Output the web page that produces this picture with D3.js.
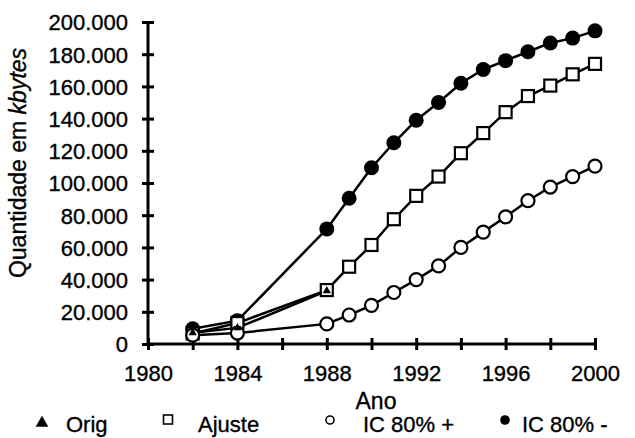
<!DOCTYPE html>
<html>
<head>
<meta charset="utf-8">
<script src="https://cdn.jsdelivr.net/npm/d3@7"></script>
<style>
  html, body { margin: 0; padding: 0; background: #fff; }
  svg { display: block; font-family: "Liberation Sans", Arial, Helvetica, sans-serif; }
  text { stroke: #000; stroke-width: 0.35px; }
</style>
</head>
<body>
<svg id="chart" width="635" height="438"></svg>
<script>
// ---- data ----
const years = [1982, 1984, 1988, 1989, 1990, 1991, 1992, 1993, 1994, 1995, 1996, 1997, 1998, 1999, 2000];
const origYears = [1982, 1984, 1988];
const origValues = [7000, 10000, 33000];
const ajusteValues = [6500, 13000, 33500, 48000, 61500, 77500, 92000, 104000, 118500, 131000, 144000, 154000, 160500, 167500, 174000];
const icPlusValues = [5500, 6800, 12500, 18000, 24000, 32000, 40000, 48500, 60000, 69500, 79000, 89000, 97500, 104000, 110500];
const icMinusValues = [9500, 14500, 71500, 90500, 109500, 125000, 139000, 150000, 162000, 170500, 176000, 181500, 187000, 190000, 194500];
const yTicks = [0, 20000, 40000, 60000, 80000, 100000, 120000, 140000, 160000, 180000, 200000];
const xTicks = [1980, 1982, 1984, 1986, 1988, 1990, 1992, 1994, 1996, 1998, 2000];
const xLabelYears = [1980, 1984, 1988, 1992, 1996, 2000];
const legendLabels = ["Orig", "Ajuste", "IC 80% +", "IC 80% -"];
const yTitleMain = "Quantidade em ";
const yTitleItalic = "kbytes";
const xTitle = "Ano";

// ---- layout ----
const svg = d3.select("#chart");
const x = d3.scaleLinear().domain([1980, 2000]).range([148, 595]);
const y = d3.scaleLinear().domain([0, 200000]).range([344, 22]);

const locale = d3.formatLocale({ decimal: ",", thousands: ".", grouping: [3], currency: ["", ""] });
const fmt = locale.format(",");

// axes
const yAxis = d3.axisLeft(y).tickValues(yTicks).tickSize(6).tickPadding(0).tickFormat(fmt);
const gy = svg.append("g").attr("transform", `translate(${x(1980)},0)`).call(yAxis);
gy.select(".domain").remove();
gy.append("line").attr("x1", 0).attr("x2", 0).attr("y1", y(200000)).attr("y2", y(0))
  .attr("stroke", "#000").attr("stroke-width", 3);
gy.selectAll(".tick line").attr("x1", -6).attr("x2", 6).attr("stroke", "#000").attr("stroke-width", 3);
gy.selectAll(".tick text").attr("x", -20).attr("dy", "0.36em")
  .attr("font-size", 22).attr("fill", "#000");

const xAxis = d3.axisBottom(x).tickValues(xTicks).tickSize(6)
  .tickFormat(d => xLabelYears.includes(d) ? String(d) : "");
const gx = svg.append("g").attr("transform", `translate(0,${y(0)})`).call(xAxis);
gx.select(".domain").remove();
gx.append("line").attr("x1", x(1980)).attr("x2", x(2000)).attr("y1", 0).attr("y2", 0)
  .attr("stroke", "#000").attr("stroke-width", 3);
gx.selectAll(".tick line").attr("y1", -6).attr("y2", 6).attr("stroke", "#000").attr("stroke-width", 3);
gx.selectAll(".tick text").attr("y", 37).attr("dy", 0).attr("font-size", 22).attr("fill", "#000");

// axis titles
svg.append("text").attr("x", 376).attr("y", 409).attr("text-anchor", "middle")
  .attr("font-size", 23).text(xTitle);
const yt = svg.append("text").attr("transform", "translate(26,163) rotate(-90)")
  .attr("text-anchor", "middle").attr("font-size", 23);
yt.append("tspan").text(yTitleMain);
yt.append("tspan").attr("font-style", "italic").text(yTitleItalic);

// ---- series ----
const line = d3.line().x(d => x(d[0])).y(d => y(d[1]));
const zip = (xs, vs) => xs.map((v, i) => [v, vs[i]]);
const icMinus = zip(years, icMinusValues);
const ajuste = zip(years, ajusteValues);
const icPlus = zip(years, icPlusValues);
const orig = zip(origYears, origValues);

[icMinus, ajuste, icPlus, orig].forEach(s => {
  svg.append("path").datum(s).attr("d", line).attr("fill", "none")
    .attr("stroke", "#000").attr("stroke-width", 2.5);
});

svg.append("g").selectAll("circle").data(icMinus).join("circle")
  .attr("cx", d => x(d[0])).attr("cy", d => y(d[1])).attr("r", 7.5).attr("fill", "#000");
svg.append("g").selectAll("rect").data(ajuste).join("rect")
  .attr("x", d => x(d[0]) - 6).attr("y", d => y(d[1]) - 6).attr("width", 12).attr("height", 12)
  .attr("fill", "#fff").attr("stroke", "#000").attr("stroke-width", 2.2);
svg.append("g").selectAll("circle").data(icPlus).join("circle")
  .attr("cx", d => x(d[0])).attr("cy", d => y(d[1])).attr("r", 6.5)
  .attr("fill", "#fff").attr("stroke", "#000").attr("stroke-width", 2.2);
const tri = d3.symbol().type(d3.symbolTriangle).size(30);
svg.append("g").selectAll("path").data(orig).join("path")
  .attr("transform", d => `translate(${x(d[0])},${y(d[1])})`).attr("d", tri).attr("fill", "#000");

// ---- legend ----
const lg = svg.append("g");
const legendItems = [
  { mx: 42, tx: 66, kind: "tri" },
  { mx: 168, tx: 198, kind: "sq" },
  { mx: 330, tx: 363, kind: "open" },
  { mx: 505, tx: 522, kind: "fill" }
];
legendItems.forEach((it, i) => {
  const my = 420;
  if (it.kind === "tri") {
    lg.append("path").attr("transform", `translate(${it.mx},${my + 3})`)
      .attr("d", d3.symbol().type(d3.symbolTriangle).size(70)).attr("fill", "#000");
  } else if (it.kind === "sq") {
    lg.append("rect").attr("x", it.mx - 4.5).attr("y", my - 5).attr("width", 9).attr("height", 9)
      .attr("fill", "#fff").attr("stroke", "#000").attr("stroke-width", 1.6);
  } else if (it.kind === "open") {
    lg.append("circle").attr("cx", it.mx).attr("cy", my).attr("r", 4)
      .attr("fill", "#fff").attr("stroke", "#000").attr("stroke-width", 1.6);
  } else {
    lg.append("circle").attr("cx", it.mx).attr("cy", my).attr("r", 4.8).attr("fill", "#000");
  }
  lg.append("text").attr("x", it.tx).attr("y", 432).attr("font-size", 22).text(legendLabels[i]);
});
</script>
</body>
</html>
